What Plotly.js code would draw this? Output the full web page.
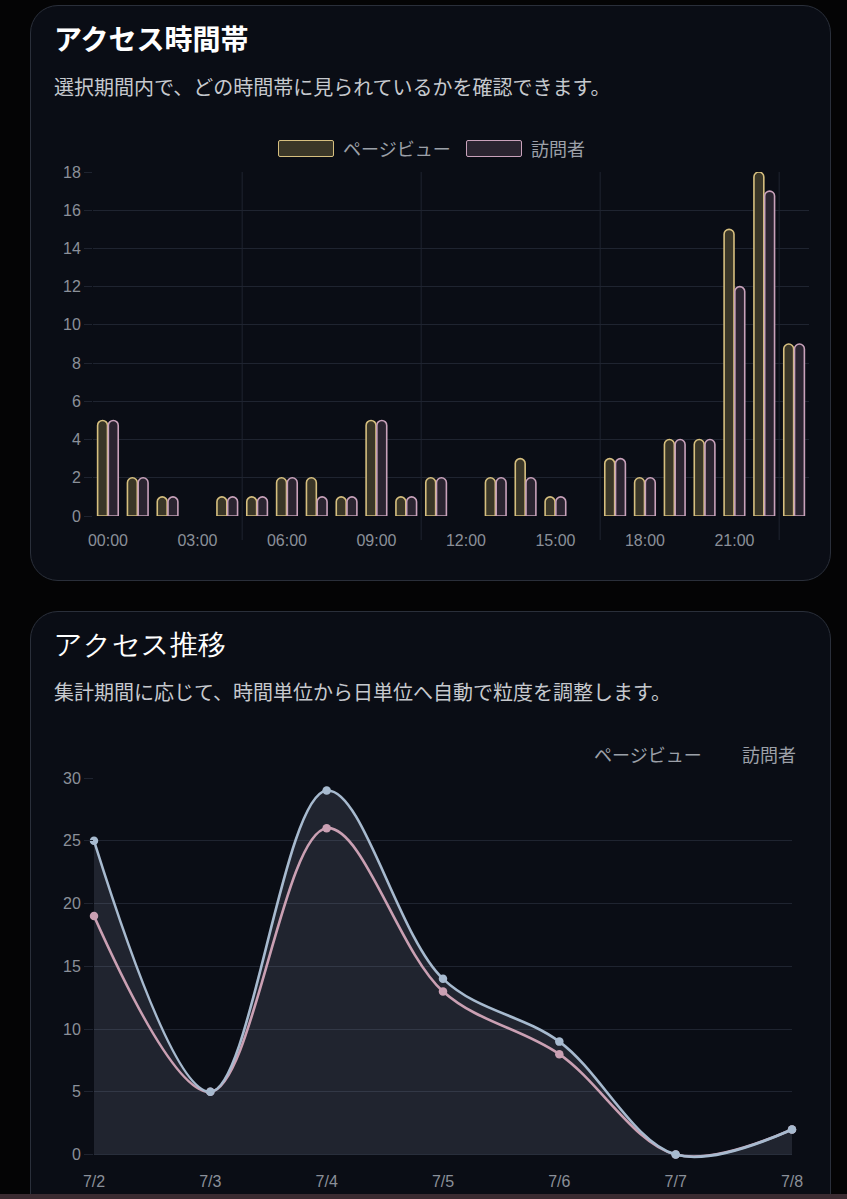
<!DOCTYPE html>
<html><head><meta charset="utf-8">
<script src="https://cdn.plot.ly/plotly-3.0.1.min.js"></script>
<style>
html,body{margin:0;padding:0;background:#040405;width:847px;height:1199px;overflow:hidden;font-family:"Noto Sans CJK JP","Noto Sans",sans-serif;}
.card{position:absolute;left:30px;width:801px;background:#0a0d15;border:1px solid #2a2f3a;border-radius:28px;box-sizing:border-box;}
#card1{top:5px;height:576px;}
#card2{top:611px;height:640px;}
.t{position:absolute;white-space:nowrap;line-height:1;}
.title1{left:54px;top:24px;font-size:28px;font-weight:700;color:#ffffff;}
.title2{left:54px;top:631px;font-size:28px;font-weight:400;color:#ffffff;font-family:serif;}
.sub{left:54px;font-size:20px;color:#c6c9ce;}
.leg{font-size:18px;color:#9ca0a8;}
.box{position:absolute;width:56px;height:17px;box-sizing:border-box;border:1.5px solid;border-radius:2px;}
#chart1{position:absolute;left:0;top:120px;width:847px;height:440px;}
#chart2{position:absolute;left:0;top:740px;width:847px;height:459px;}
#strip{position:absolute;left:0;top:1194px;width:847px;height:5px;background:#3b2b31;}
</style></head>
<body>
<div class="card" id="card1"></div>
<div class="card" id="card2"></div>
<div class="t title1">アクセス時間帯</div>
<div class="t sub" style="top:77px;">選択期間内で、どの時間帯に見られているかを確認できます。</div>
<div class="box" style="left:278px;top:140px;border-color:#d6bf7f;background:#3a3627;"></div>
<div class="t leg" style="left:343px;top:139px;">ページビュー</div>
<div class="box" style="left:466px;top:140px;border-color:#c9a2bb;background:#2a2430;"></div>
<div class="t leg" style="left:531px;top:139px;">訪問者</div>
<div id="chart1"></div>

<div class="t title2">アクセス推移</div>
<div class="t sub" style="top:682px;">集計期間に応じて、時間単位から日単位へ自動で粒度を調整します。</div>
<div class="t leg" style="left:594px;top:745px;">ページビュー</div>
<div class="t leg" style="left:742px;top:745px;">訪問者</div>
<div id="chart2"></div>
<div id="strip"></div>

<script>
// ---- Data: hourly chart ----
const hours = ['00:00','01:00','02:00','03:00','04:00','05:00','06:00','07:00','08:00','09:00','10:00','11:00',
               '12:00','13:00','14:00','15:00','16:00','17:00','18:00','19:00','20:00','21:00','22:00','23:00'];
const hourTicks = ['00:00','03:00','06:00','09:00','12:00','15:00','18:00','21:00'];
const hourPageViews = [5,2,1,0,1,1,2,2,1,5,1,2,0,2,3,1,0,3,2,4,4,15,18,9];
const hourVisitors  = [5,2,1,0,1,1,2,1,1,5,1,2,0,2,2,1,0,3,2,4,4,12,17,9];

// ---- Data: daily trend chart ----
const days = ['7/2','7/3','7/4','7/5','7/6','7/7','7/8'];
const dayPageViews = [25,5,29,14,9,0,2];
const dayVisitors  = [19,5,26,13,8,0,2];

const seriesNames = ['ページビュー','訪問者'];

const GRID = '#1f2430';
const TICKFONT = {family:'"Liberation Sans", Arial, sans-serif', size:16, color:'#8b9099'};
const nz = a => a.map(v => v === 0 ? null : v);

// ---- Chart 1 ----
const bar1 = {type:'bar', name:seriesNames[0], x:hours, y:nz(hourPageViews),
  marker:{color:'#3a3627', line:{color:'#d6bf7f', width:1.6}, cornerradius:'50%'}, hoverinfo:'skip'};
const bar2 = {type:'bar', name:seriesNames[1], x:hours, y:nz(hourVisitors),
  marker:{color:'#2a2430', line:{color:'#c9a2bb', width:1.6}, cornerradius:'50%'}, hoverinfo:'skip'};

const vlines = [4.5,10.5,16.5,22.5].map(v => ({type:'line', xref:'x', yref:'paper', x0:v, x1:v,
  y0:-24/344, y1:1, line:{color:GRID, width:1}, layer:'below'}));

Plotly.newPlot('chart1', [bar1, bar2], {
  width:847, height:440,
  margin:{l:93, r:37.5, t:52, b:44},
  paper_bgcolor:'rgba(0,0,0,0)', plot_bgcolor:'rgba(0,0,0,0)',
  showlegend:false, barmode:'group', bargap:0.28, bargroupgap:0.08,
  xaxis:{type:'category', range:[-0.5,23.5], tickmode:'array', tickvals:hourTicks, ticktext:hourTicks,
    showgrid:false, zeroline:false, showline:false, ticks:'outside', ticklen:10, tickcolor:'rgba(0,0,0,0)',
    tickfont:TICKFONT, fixedrange:true},
  yaxis:{range:[0,18], dtick:2, tick0:0, gridcolor:GRID, gridwidth:1, zeroline:false, showline:false,
    ticks:'outside', ticklen:8, tickcolor:GRID, tickfont:TICKFONT, fixedrange:true},
  shapes:vlines
}, {staticPlot:true, displayModeBar:false});

// ---- Chart 2 ----
const spline = {shape:'spline', smoothing:1};
const fillPV = {type:'scatter', mode:'lines', x:days, y:dayPageViews, fill:'tozeroy',
  fillcolor:'rgba(148,163,184,0.16)', line:Object.assign({width:0, color:'rgba(0,0,0,0)'}, spline),
  hoverinfo:'skip', showlegend:false};
const visLine = {type:'scatter', mode:'lines+markers', name:seriesNames[1], x:days, y:dayVisitors,
  line:Object.assign({width:2.6, color:'#caa0b3'}, spline), marker:{size:8.5, color:'#caa0b3'},
  cliponaxis:false, hoverinfo:'skip'};
const pvLine = {type:'scatter', mode:'lines+markers', name:seriesNames[0], x:days, y:dayPageViews,
  line:Object.assign({width:2.6, color:'#a7bacf'}, spline), marker:{size:8.5, color:'#a7bacf'},
  cliponaxis:false, hoverinfo:'skip'};

Plotly.newPlot('chart2', [fillPV, visLine, pvLine], {
  width:847, height:459,
  margin:{l:94, r:55, t:38, b:39.6},
  paper_bgcolor:'rgba(0,0,0,0)', plot_bgcolor:'rgba(0,0,0,0)',
  showlegend:false,
  xaxis:{type:'category', range:[0,6], showgrid:false, zeroline:false, showline:false,
    ticks:'outside', ticklen:7.6, tickcolor:'rgba(0,0,0,0)', tickfont:TICKFONT, fixedrange:true},
  yaxis:{range:[-0.35,30], tickmode:'array', tickvals:[0,5,10,15,20,25,30], gridcolor:GRID, gridwidth:1,
    zeroline:false, showline:false, ticks:'outside', ticklen:9, tickcolor:GRID, tickfont:TICKFONT, fixedrange:true}
}, {staticPlot:true, displayModeBar:false});
</script>
</body></html>
